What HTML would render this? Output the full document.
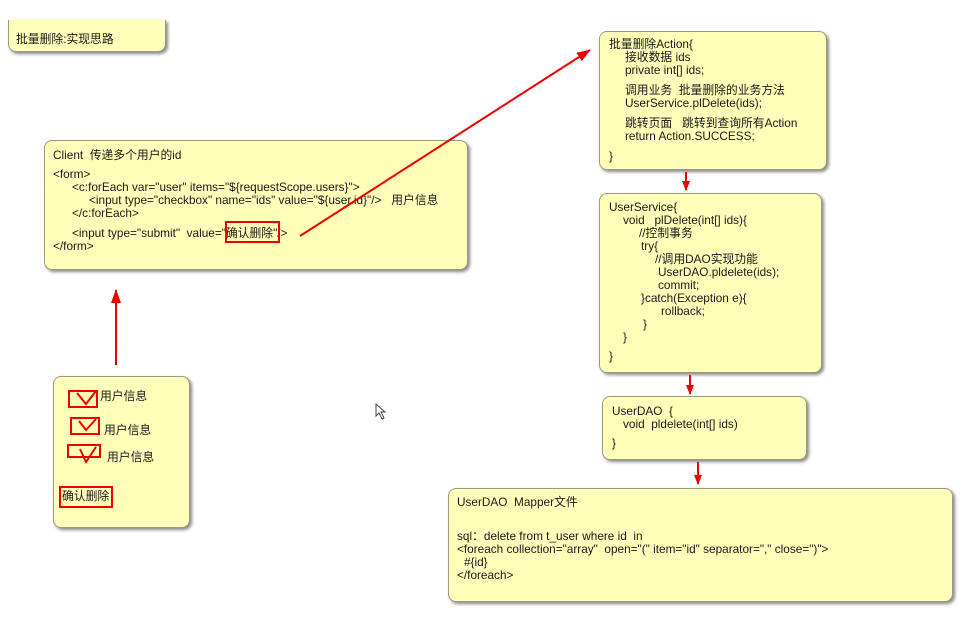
<!DOCTYPE html>
<html><head><meta charset="utf-8"><style>
body{margin:0;width:977px;height:619px;background:#fff;position:relative;overflow:hidden;font-family:"Liberation Sans","Noto Sans CJK SC",sans-serif;font-size:11.8px;color:#1a1a1a}
.b{position:absolute;background:#ffffb9;border:1px solid #9a9a80;border-radius:8px;box-shadow:2px 2px 3px #888;box-sizing:border-box}
.t{position:absolute;white-space:pre;line-height:13px}
.r{position:absolute;border:2px solid #e00;box-sizing:border-box}
</style></head><body>
<div class="b" style="left:8px;top:20px;width:158px;height:32px;border-top:none;border-radius:0 0 8px 8px"></div>
<div class="t" style="left:16px;top:33px">批量删除:实现思路</div>

<div class="b" style="left:44px;top:140px;width:424px;height:130px"></div>
<div class="t" style="left:53px;top:149px">Client  传递多个用户的id</div>
<div class="t" style="left:53px;top:168px">&lt;form&gt;</div>
<div class="t" style="left:72px;top:181px">&lt;c:forEach var="user" items="${requestScope.users}"&gt;</div>
<div class="t" style="left:89px;top:194px">&lt;input type="checkbox" name="ids" value="${user.id}"/&gt;   用户信息</div>
<div class="t" style="left:72px;top:207px">&lt;/c:forEach&gt;</div>
<div class="t" style="left:72px;top:227px">&lt;input type="submit"  value="确认删除"/&gt;</div>
<div class="t" style="left:53px;top:240px">&lt;/form&gt;</div>
<div class="r" style="left:225px;top:221px;width:55px;height:22px"></div>

<div class="b" style="left:599px;top:31px;width:228px;height:139px"></div>
<div class="t" style="left:609px;top:38px">批量删除Action{</div>
<div class="t" style="left:625px;top:51px">接收数据 ids</div>
<div class="t" style="left:625px;top:64px">private int[] ids;</div>
<div class="t" style="left:625px;top:84px">调用业务  批量删除的业务方法</div>
<div class="t" style="left:625px;top:97px">UserService.plDelete(ids);</div>
<div class="t" style="left:625px;top:117px">跳转页面   跳转到查询所有Action</div>
<div class="t" style="left:625px;top:130px">return Action.SUCCESS;</div>
<div class="t" style="left:609px;top:150px">}</div>

<div class="b" style="left:599px;top:193px;width:223px;height:180px"></div>
<div class="t" style="left:609px;top:201px">UserService{</div>
<div class="t" style="left:623px;top:214px">void   plDelete(int[] ids){</div>
<div class="t" style="left:639px;top:227px">//控制事务</div>
<div class="t" style="left:641px;top:240px">try{</div>
<div class="t" style="left:655px;top:253px">//调用DAO实现功能</div>
<div class="t" style="left:658px;top:266px">UserDAO.pldelete(ids);</div>
<div class="t" style="left:658px;top:279px">commit;</div>
<div class="t" style="left:641px;top:292px">}catch(Exception e){</div>
<div class="t" style="left:661px;top:305px">rollback;</div>
<div class="t" style="left:643px;top:318px">}</div>
<div class="t" style="left:623px;top:331px">}</div>
<div class="t" style="left:609px;top:350px">}</div>

<div class="b" style="left:602px;top:396px;width:205px;height:64px"></div>
<div class="t" style="left:612px;top:405px">UserDAO  {</div>
<div class="t" style="left:623px;top:418px">void  pldelete(int[] ids)</div>
<div class="t" style="left:612px;top:437px">}</div>

<div class="b" style="left:448px;top:488px;width:505px;height:114px"></div>
<div class="t" style="left:457px;top:496px">UserDAO  Mapper文件</div>
<div class="t" style="left:457px;top:530px">sql：delete from t_user where id  in</div>
<div class="t" style="left:457px;top:543px">&lt;foreach collection="array"  open="(" item="id" separator="," close=")"&gt;</div>
<div class="t" style="left:464px;top:556px">#{id}</div>
<div class="t" style="left:457px;top:569px">&lt;/foreach&gt;</div>

<div class="b" style="left:53px;top:376px;width:137px;height:152px"></div>
<div class="t" style="left:100px;top:390px">用户信息</div>
<div class="t" style="left:104px;top:424px">用户信息</div>
<div class="t" style="left:107px;top:451px">用户信息</div>
<div class="t" style="left:62px;top:490px">确认删除</div>
<div class="r" style="left:68px;top:390px;width:30px;height:18px"></div>
<div class="r" style="left:70px;top:417px;width:30px;height:18px"></div>
<div class="r" style="left:67px;top:444px;width:34px;height:14px"></div>
<div class="r" style="left:59px;top:486px;width:54px;height:22px"></div>

<svg width="977" height="619" style="position:absolute;left:0;top:0">
<defs><marker id="a" markerWidth="10" markerHeight="8" refX="9" refY="4" orient="auto" markerUnits="userSpaceOnUse"><path d="M0,0L10,4L0,8z" fill="#e00"/></marker>
<marker id="s" markerWidth="14" markerHeight="10" refX="13" refY="5" orient="auto" markerUnits="userSpaceOnUse"><path d="M0,0L14,5L0,10z" fill="#e00"/></marker></defs>
<g stroke="#e00" stroke-width="2" fill="none">
<path d="M300 236L590 50" marker-end="url(#s)"/>
<path d="M116 365L116 290" marker-end="url(#s)"/>
<path d="M686 172L686 190" marker-end="url(#a)"/>
<path d="M690 375L690 394" marker-end="url(#a)"/>
<path d="M698 462L698 484" marker-end="url(#a)"/>
<path d="M77 393L86 404L96 391" />
<path d="M79 421L86 430L96 419" />
<path d="M80 449L86 462L96 447" />
</g>
<path d="M376 404L376 416L379 413L382 419L384 418L381 412L385 412z" fill="#fff" stroke="#444" stroke-width="1"/>
</svg>
</body></html>
